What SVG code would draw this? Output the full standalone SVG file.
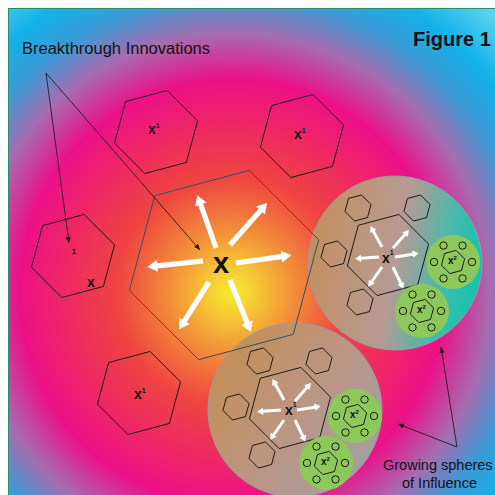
<svg xmlns="http://www.w3.org/2000/svg" width="495" height="495" viewBox="0 0 495 495">
<defs>
  <radialGradient id="bg" gradientUnits="userSpaceOnUse" cx="232" cy="292" r="380">
    <stop offset="0" stop-color="#f8ec32"/>
    <stop offset="0.07" stop-color="#f6c634"/>
    <stop offset="0.17" stop-color="#f28a3a"/>
    <stop offset="0.3" stop-color="#ef4540"/>
    <stop offset="0.42" stop-color="#ee2c5e"/>
    <stop offset="0.56" stop-color="#ec1088"/>
    <stop offset="0.68" stop-color="#a66cb0"/>
    <stop offset="0.78" stop-color="#3c9ad6"/>
    <stop offset="0.88" stop-color="#12b2e8"/>
    <stop offset="1" stop-color="#5ad2f2"/>
  </radialGradient>
  <linearGradient id="sph1" x1="0" y1="0.4" x2="1" y2="0.6">
    <stop offset="0" stop-color="#c58f5f"/>
    <stop offset="0.5" stop-color="#b79a94"/>
    <stop offset="0.8" stop-color="#3ebcae"/>
    <stop offset="1" stop-color="#10c4b0"/>
  </linearGradient>
  <linearGradient id="sph2" x1="0" y1="0.2" x2="1" y2="0.9">
    <stop offset="0" stop-color="#c48f52"/>
    <stop offset="0.5" stop-color="#bc9584"/>
    <stop offset="0.85" stop-color="#a99d9e"/>
    <stop offset="1" stop-color="#8fa8a4"/>
  </linearGradient>
  <path id="h43" d="M41.54,-11.13 L30.41,30.41 L-11.13,41.54 L-41.54,11.13 L-30.41,-30.41 L11.13,-41.54 Z"/>
  <path id="h98" d="M94.66,-25.36 L69.3,69.3 L-25.36,94.66 L-94.66,25.36 L-69.3,-69.3 L25.36,-94.66 Z"/>
  <path id="h42" d="M40.57,-10.87 L29.7,29.7 L-10.87,40.57 L-40.57,10.87 L-29.7,-29.7 L10.87,-40.57 Z"/>
  <path id="h13" d="M13.04,-3.49 L9.55,9.55 L-3.49,13.04 L-13.04,3.49 L-9.55,-9.55 L3.49,-13.04 Z"/>
  <path id="h12" d="M11.59,-3.11 L8.49,8.49 L-3.11,11.59 L-11.59,3.11 L-8.49,-8.49 L3.11,-11.59 Z"/>
  <path id="bigArrow" d="M0,-2.6 H46 V-6 L56,0 L46,6 V2.6 H0 Z"/>
  <path id="smallArrow" d="M0,-1.5 H18 V-3.6 L24,0 L18,3.6 V1.5 H0 Z"/>
  <marker id="ah" markerUnits="userSpaceOnUse" markerWidth="7" markerHeight="6" refX="6" refY="2.5" orient="auto">
    <path d="M0,0 L6,2.5 L0,5 Z" fill="#111"/>
  </marker>
</defs>
<style>
  .hx{fill:none;stroke:#1a1a1a;stroke-width:1}
  .bighx{fill:none;stroke:#2f5366;stroke-width:1}
  .lbl{font-family:"Liberation Sans",Arial,sans-serif;font-weight:bold;fill:#111}
  .txt{font-family:"Liberation Sans",Arial,sans-serif;fill:#111}
  .grn{fill:#8dc85a}
  .dot{fill:none;stroke:#1a1a1a;stroke-width:1}
  .sph{stroke:#9c9aa6;stroke-width:1}
  .wa{fill:#ffffff}
  .con{stroke:#111;stroke-width:0.8;fill:none;marker-end:url(#ah)}
</style>

<rect id="background" x="8.5" y="8.5" width="490" height="490" fill="url(#bg)" stroke="#2e8b6e" stroke-width="1"/>

<g id="hex-top-left">
  <use href="#h43" class="hx" transform="translate(156,132)"/>
  <text class="lbl" x="148" y="134" font-size="14">x<tspan font-size="7" dy="-6">1</tspan></text>
</g>
<g id="hex-top-right">
  <use href="#h43" class="hx" transform="translate(302,136)"/>
  <text class="lbl" x="294" y="139" font-size="14">x<tspan font-size="7" dy="-6">1</tspan></text>
</g>
<g id="hex-left">
  <use href="#h43" class="hx" transform="translate(73,256)"/>
  <text class="lbl" x="72" y="254" font-size="7">1</text>
  <text class="lbl" x="87" y="287" font-size="14">x</text>
</g>
<g id="hex-bottom-left">
  <use href="#h43" class="hx" transform="translate(139,393)"/>
  <text class="lbl" x="134" y="399" font-size="14">x<tspan font-size="7" dy="-6">1</tspan></text>
</g>

<g id="sphere1" transform="translate(388,255)">
  <circle class="sph" cx="7" cy="8" r="87" fill="url(#sph1)"/>
  <use href="#h42" class="hx"/>
  <use href="#h13" class="hx" transform="translate(-30,-47)"/>
  <use href="#h13" class="hx" transform="translate(29,-47)"/>
  <use href="#h13" class="hx" transform="translate(-54,-1)"/>
  <use href="#h13" class="hx" transform="translate(-28,47)"/>
  <use href="#smallArrow" class="wa" transform="translate(-6,-8) rotate(-118.8)"/>
  <use href="#smallArrow" class="wa" transform="translate(5,-7) rotate(-48.4)"/>
  <use href="#smallArrow" class="wa" transform="translate(-9,2) rotate(175.8)"/>
  <use href="#smallArrow" class="wa" transform="translate(7,2) rotate(-9.1)"/>
  <use href="#smallArrow" class="wa" transform="translate(-6,12) rotate(125)"/>
  <use href="#smallArrow" class="wa" transform="translate(5,12) rotate(64.5)"/>
  <text class="lbl" x="-6" y="8" font-size="14">x<tspan font-size="7" dy="-8">1</tspan></text>
  <g id="s1-green-a" transform="translate(65,7)">
    <circle class="grn" r="27"/>
    <use href="#h12" class="hx"/>
    <circle class="dot" cx="19" cy="0" r="3.7"/>
    <circle class="dot" cx="9.5" cy="16.45" r="3.7"/>
    <circle class="dot" cx="-9.5" cy="16.45" r="3.7"/>
    <circle class="dot" cx="-19" cy="0" r="3.7"/>
    <circle class="dot" cx="-9.5" cy="-16.45" r="3.7"/>
    <circle class="dot" cx="9.5" cy="-16.45" r="3.7"/>
    <text class="lbl" x="-5" y="2" font-size="10">x<tspan font-size="6" dy="-4">2</tspan></text>
  </g>
  <g id="s1-green-b" transform="translate(34,56)">
    <circle class="grn" r="27"/>
    <use href="#h12" class="hx"/>
    <circle class="dot" cx="19" cy="0" r="3.7"/>
    <circle class="dot" cx="9.5" cy="16.45" r="3.7"/>
    <circle class="dot" cx="-9.5" cy="16.45" r="3.7"/>
    <circle class="dot" cx="-19" cy="0" r="3.7"/>
    <circle class="dot" cx="-9.5" cy="-16.45" r="3.7"/>
    <circle class="dot" cx="9.5" cy="-16.45" r="3.7"/>
    <text class="lbl" x="-5" y="2" font-size="10">x<tspan font-size="6" dy="-4">2</tspan></text>
  </g>
</g>

<g id="sphere2" transform="translate(290,408)">
  <circle class="sph" cx="5" cy="2" r="87" fill="url(#sph2)"/>
  <use href="#h42" class="hx"/>
  <use href="#h13" class="hx" transform="translate(-30,-47)"/>
  <use href="#h13" class="hx" transform="translate(29,-47)"/>
  <use href="#h13" class="hx" transform="translate(-54,-1)"/>
  <use href="#h13" class="hx" transform="translate(-28,47)"/>
  <use href="#smallArrow" class="wa" transform="translate(-6,-8) rotate(-118.8)"/>
  <use href="#smallArrow" class="wa" transform="translate(5,-7) rotate(-48.4)"/>
  <use href="#smallArrow" class="wa" transform="translate(-9,2) rotate(175.8)"/>
  <use href="#smallArrow" class="wa" transform="translate(7,2) rotate(-9.1)"/>
  <use href="#smallArrow" class="wa" transform="translate(-6,12) rotate(125)"/>
  <use href="#smallArrow" class="wa" transform="translate(5,12) rotate(64.5)"/>
  <text class="lbl" x="-5" y="7" font-size="14">x<tspan font-size="7" dy="-8">1</tspan></text>
  <g id="s2-green-a" transform="translate(65,8)">
    <circle class="grn" r="27"/>
    <use href="#h12" class="hx"/>
    <circle class="dot" cx="19" cy="0" r="3.7"/>
    <circle class="dot" cx="9.5" cy="16.45" r="3.7"/>
    <circle class="dot" cx="-9.5" cy="16.45" r="3.7"/>
    <circle class="dot" cx="-19" cy="0" r="3.7"/>
    <circle class="dot" cx="-9.5" cy="-16.45" r="3.7"/>
    <circle class="dot" cx="9.5" cy="-16.45" r="3.7"/>
    <text class="lbl" x="-5" y="2" font-size="10">x<tspan font-size="6" dy="-4">2</tspan></text>
  </g>
  <g id="s2-green-b" transform="translate(36,55)">
    <circle class="grn" r="27"/>
    <use href="#h12" class="hx"/>
    <circle class="dot" cx="19" cy="0" r="3.7"/>
    <circle class="dot" cx="9.5" cy="16.45" r="3.7"/>
    <circle class="dot" cx="-9.5" cy="16.45" r="3.7"/>
    <circle class="dot" cx="-19" cy="0" r="3.7"/>
    <circle class="dot" cx="-9.5" cy="-16.45" r="3.7"/>
    <circle class="dot" cx="9.5" cy="-16.45" r="3.7"/>
    <text class="lbl" x="-5" y="2" font-size="10">x<tspan font-size="6" dy="-4">2</tspan></text>
  </g>
</g>

<g id="breakthrough-x">
  <use href="#h98" class="bighx" transform="translate(224,265)"/>
  <use href="#bigArrow" class="wa" transform="translate(203,261) rotate(173.9)"/>
  <use href="#bigArrow" class="wa" transform="translate(236,263) rotate(-8)"/>
  <use href="#bigArrow" class="wa" transform="translate(216,248) rotate(-109.4)"/>
  <use href="#bigArrow" class="wa" transform="translate(230,245) rotate(-48.5)"/>
  <use href="#bigArrow" class="wa" transform="translate(209,282) rotate(122.2)"/>
  <use href="#bigArrow" class="wa" transform="translate(230,280) rotate(68.2)"/>
  <text class="lbl" x="213" y="273" font-size="29">x</text>
</g>

<g id="title">
  <text class="lbl" x="413" y="46" font-size="20">Figure 1</text>
</g>
<g id="label-breakthrough">
  <text class="txt" x="22" y="54" font-size="16" textLength="188" lengthAdjust="spacingAndGlyphs">Breakthrough Innovations</text>
</g>
<g id="label-growing">
  <text class="txt" x="383" y="470" font-size="14.5">Growing spheres</text>
  <text class="txt" x="402" y="488" font-size="14.5">of Influence</text>
</g>

<g id="connectors">
  <path class="con" d="M46,73 L69,243"/>
  <path class="con" d="M46,73 L200,250"/>
  <path class="con" d="M457,447 L441,347"/>
  <path class="con" d="M457,447 L398,424"/>
</g>
</svg>
